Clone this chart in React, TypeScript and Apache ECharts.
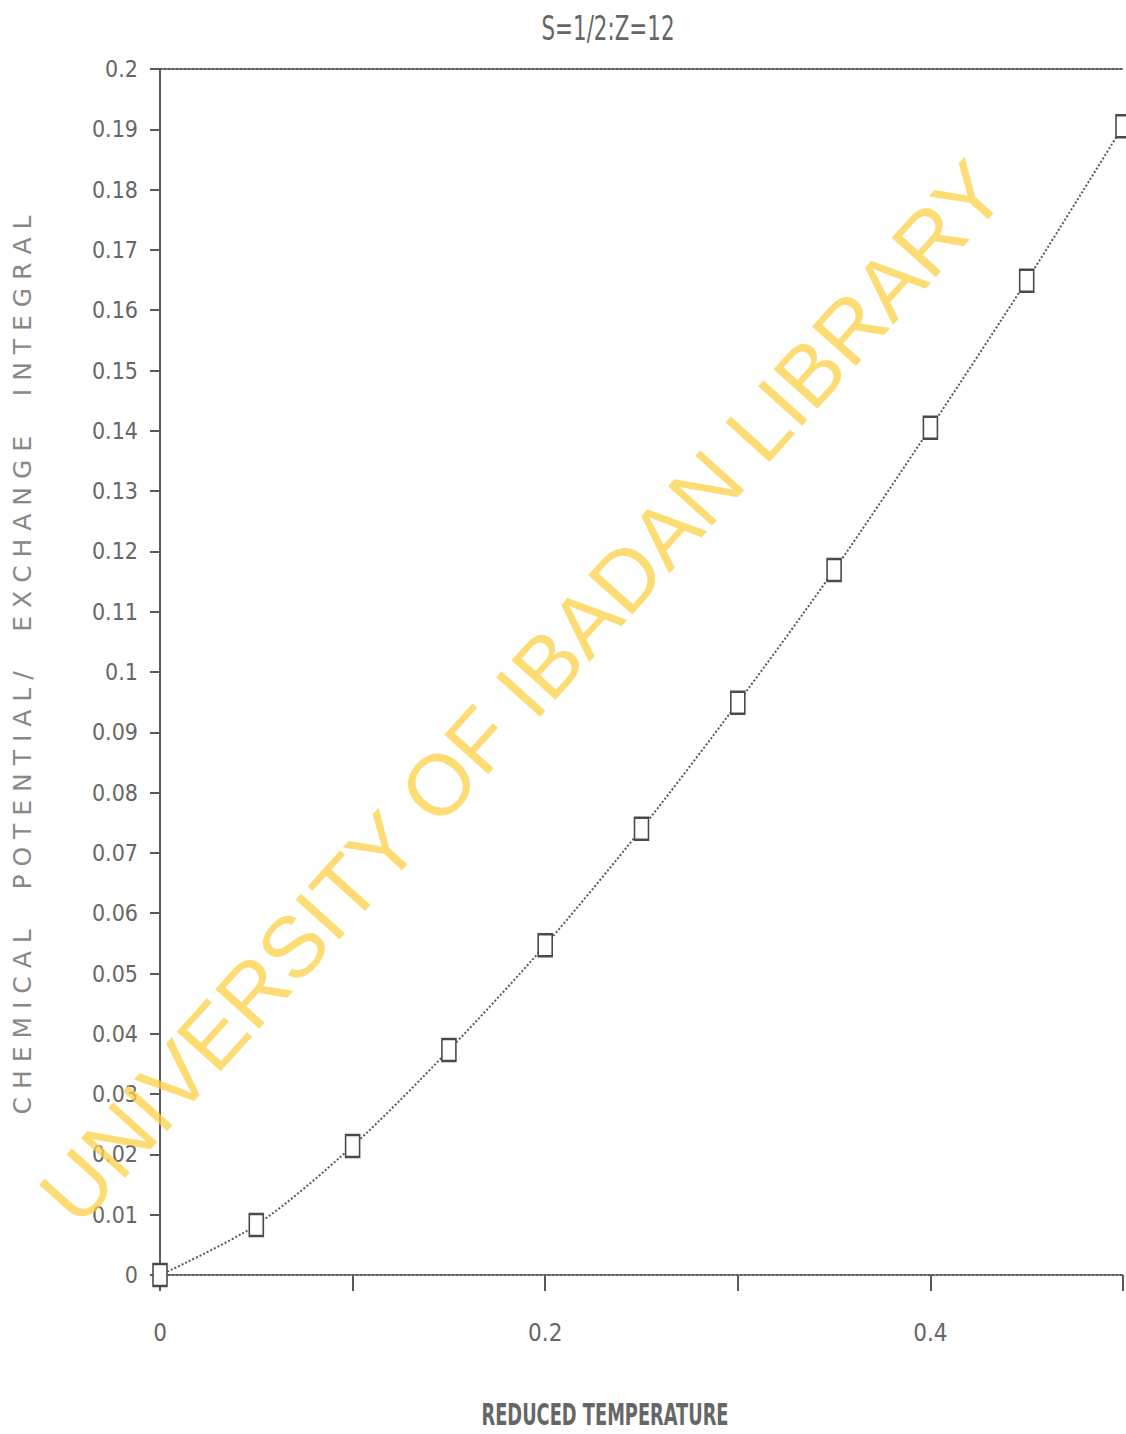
import React, { useEffect, useRef } from "react";
import * as echarts from "echarts";

const TITLE = "S=1/2:Z=12";
const X_NAME = "REDUCED TEMPERATURE";
const Y_NAME = "CHEMICAL  POTENTIAL/  EXCHANGE  INTEGRAL";
const WATERMARK = "UNIVERSITY OF IBADAN LIBRARY";

const temperature = [0, 0.05, 0.1, 0.15, 0.2, 0.25, 0.3, 0.35, 0.4, 0.45, 0.5];
const potential = [0, 0.0083, 0.0214, 0.0373, 0.0547, 0.074, 0.0949, 0.1169, 0.1405, 0.1649, 0.1905];
const xLabelsShown = [0, 0.2, 0.4];

const NARROW = "'DejaVu Sans Condensed', 'DejaVu Sans', sans-serif";
const INK = "#5a5a5a";

export default function App() {
  const ref = useRef<HTMLDivElement>(null);

  useEffect(() => {
    document.body.style.margin = "0";
    if (!ref.current) return;
    const chart = echarts.init(ref.current, undefined, { renderer: "svg" });
    const spaced = Y_NAME.split("").join(" ");
    chart.setOption({
      animation: false,
      backgroundColor: "#ffffff",
      grid: { left: 160, right: 0, top: 69, bottom: 159, containLabel: false },
      xAxis: [
        {
          type: "value",
          min: 0,
          max: 0.5,
          interval: 0.1,
          position: "bottom",
          axisLine: { show: true, onZero: false, lineStyle: { color: INK, width: 2, type: "dotted" } },
          axisTick: { show: true, length: 16, lineStyle: { color: INK, width: 2 } },
          axisLabel: {
            margin: 46,
            fontFamily: NARROW,
            fontSize: 24,
            color: "#666",
            formatter: (v: number) => {
              const r = parseFloat(v.toFixed(2));
              return xLabelsShown.includes(r) ? String(r) : "";
            },
          },
          splitLine: { show: false },
        },
        {
          type: "value",
          min: 0,
          max: 0.5,
          position: "top",
          axisLine: { show: true, onZero: false, lineStyle: { color: INK, width: 2, type: "dotted" } },
          axisTick: { show: false },
          axisLabel: { show: false },
          splitLine: { show: false },
        },
      ],
      yAxis: {
        type: "value",
        min: 0,
        max: 0.2,
        interval: 0.01,
        axisLine: { show: true, lineStyle: { color: INK, width: 2 } },
        axisTick: { show: true, length: 10, lineStyle: { color: INK, width: 2 } },
        axisLabel: {
          margin: 22,
          fontFamily: NARROW,
          fontSize: 23,
          color: "#666",
          formatter: (v: number) => String(parseFloat(v.toFixed(2))),
        },
        splitLine: { show: false },
      },
      series: [
        {
          type: "line",
          data: temperature.map((t, i) => [t, potential[i]]),
          smooth: 0.3,
          symbol: "rect",
          symbolSize: [14, 22],
          showAllSymbol: true,
          clip: false,
          lineStyle: { color: INK, width: 2, type: "dotted" },
          itemStyle: { color: "#ffffff", borderColor: "#4a4a4a", borderWidth: 2 },
          z: 3,
        },
      ],
      graphic: [
        {
          type: "text",
          x: 608,
          y: 28,
          scaleX: 0.7,
          style: {
            text: TITLE,
            fontFamily: NARROW,
            fontSize: 34,
            fill: "#666",
            align: "center",
            verticalAlign: "middle",
          },
        },
        {
          type: "text",
          x: 22,
          y: 665,
          rotation: Math.PI / 2,
          style: {
            text: spaced,
            fontFamily: "'DejaVu Sans', sans-serif",
            fontSize: 25,
            fill: "#888",
            align: "center",
            verticalAlign: "middle",
          },
        },
        {
          type: "text",
          x: 605,
          y: 1414,
          scaleX: 0.66,
          style: {
            text: X_NAME,
            fontFamily: NARROW,
            fontSize: 30,
            fontWeight: "bold",
            fill: "#666",
            align: "center",
            verticalAlign: "middle",
          },
        },
        {
          type: "text",
          x: 522,
          y: 692,
          rotation: (48 * Math.PI) / 180,
          z: 10,
          style: {
            text: WATERMARK,
            fontFamily: "'Liberation Sans', Arial, sans-serif",
            fontSize: 86,
            fill: "rgba(252, 208, 70, 0.75)",
            align: "center",
            verticalAlign: "middle",
          },
        },
      ],
    });
    return () => chart.dispose();
  }, []);

  return <div ref={ref} style={{ width: 1126, height: 1434 }} />;
}
